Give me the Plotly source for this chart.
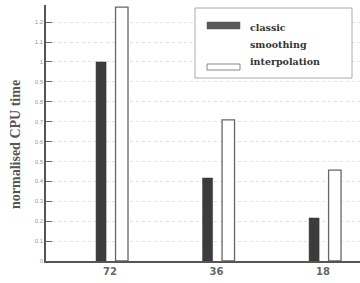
import plotly.graph_objects as go

categories = ["72", "36", "18"]
classic = [1.0, 0.417, 0.216]
interp = [1.275, 0.709, 0.457]
ytick_vals = [0, 0.1, 0.2, 0.3, 0.4, 0.5, 0.6, 0.7, 0.8, 0.9, 1.0, 1.1, 1.2]
ytick_text = ["0", "0.1", "0.2", "0.3", "0.4", "0.5", "0.6", "0.7", "0.8", "0.9", "1", "1.1", "1.2"]

W, H = 360, 283
L, R, T, B = 46, 0, 5, 22
pw, ph = W - L - R, H - T - B

def px(x):
    return (x - L) / pw

def py(y):
    return (H - B - y) / ph

xpos = list(range(len(categories)))

fig = go.Figure()
fig.add_trace(go.Bar(x=xpos, y=classic, name="classic smoothing",
                     offset=-0.131, width=0.094,
                     marker=dict(color="#3c3c3c", line=dict(color="#333", width=0.5))))
fig.add_trace(go.Bar(x=xpos, y=interp, name="interpolation",
                     offset=0.052, width=0.117,
                     marker=dict(color="white", line=dict(color="#666", width=1.3))))

shapes = [
    dict(type="rect", xref="paper", yref="paper", x0=px(195), x1=px(352), y0=py(78), y1=py(8),
         line=dict(color="#aaa", width=1), fillcolor="white", layer="above"),
    dict(type="rect", xref="paper", yref="paper", x0=px(207), x1=px(240), y0=py(29), y1=py(22),
         line=dict(color="#555", width=0.5), fillcolor="#5a5a5a", layer="above"),
    dict(type="rect", xref="paper", yref="paper", x0=px(207), x1=px(240), y0=py(70), y1=py(64),
         line=dict(color="#888", width=1), fillcolor="white", layer="above"),
]
font_leg = dict(family="DejaVu Serif", size=9.5, color="#333", weight="bold")
annotations = [
    dict(xref="paper", yref="paper", x=px(248), y=py(27), text="classic", showarrow=False,
         xanchor="left", yanchor="middle", font=font_leg),
    dict(xref="paper", yref="paper", x=px(248), y=py(44), text="smoothing", showarrow=False,
         xanchor="left", yanchor="middle", font=font_leg),
    dict(xref="paper", yref="paper", x=px(248), y=py(61), text="interpolation", showarrow=False,
         xanchor="left", yanchor="middle", font=font_leg),
    dict(xref="paper", yref="paper", x=px(15), y=py(145), text="<b>normalised CPU time</b>",
         showarrow=False, textangle=-90, xanchor="center", yanchor="middle",
         font=dict(family="Liberation Serif", size=14, color="#555")),
]

fig.update_layout(
    width=W, height=H,
    margin=dict(l=L, r=R, t=T, b=B, pad=0, autoexpand=False),
    paper_bgcolor="white", plot_bgcolor="white",
    showlegend=False,
    barmode="overlay",
    shapes=shapes, annotations=annotations,
    xaxis=dict(range=[-0.601, 2.347], tickvals=xpos, ticktext=categories, automargin=False,
               showgrid=False, zeroline=False, showline=True, linecolor="#555", linewidth=1.5,
               ticks="", tickfont=dict(family="DejaVu Sans", size=10, color="#666", weight="bold")),
    yaxis=dict(range=[0, 1.286], tickvals=ytick_vals, ticktext=ytick_text, automargin=False,
               showgrid=True, gridcolor="#e2e2e2", griddash="dot", gridwidth=1,
               zeroline=False, showline=True, linecolor="#555", linewidth=1.5,
               ticks="inside", ticklen=6, tickcolor="#666", tickwidth=1,
               tickfont=dict(family="Liberation Sans", size=6, color="#999")),
)

fig.write_html("out.html", config={"displayModeBar": False},
               post_script="document.body.style.margin='0';document.body.style.overflow='hidden';")
